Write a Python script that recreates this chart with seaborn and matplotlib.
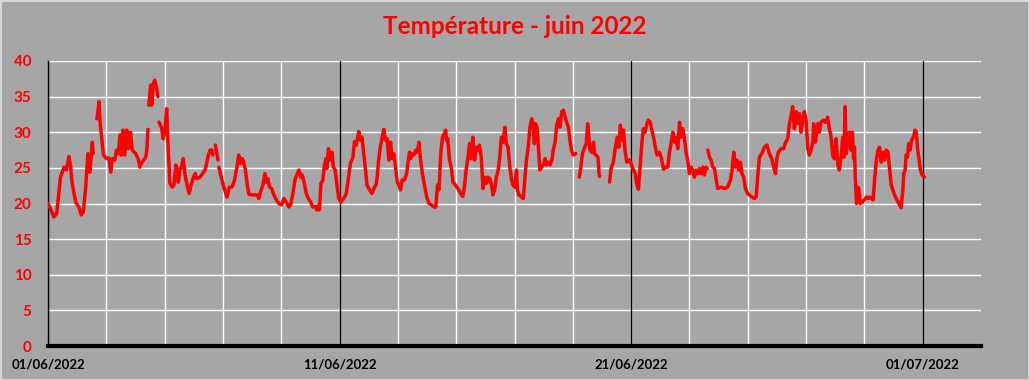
import seaborn as sns
import matplotlib.pyplot as plt
import matplotlib.dates as mdates
import pandas as pd
import numpy as np

# fractional days since 01/06/2022 00:00 and temperature (°C); None = missing data
day_offset = [
    0.00, 0.10, 0.20, 0.30, 0.34, 0.43, 0.55, 0.63, 0.72, 0.78, 0.83, 0.95, 1.06, 1.14, 1.21, 1.29,
    1.37, 1.44, 1.52, 1.55, 1.61,
    1.67, 1.69, 1.75, 1.78, 1.84, 1.90, 2.01, 2.09, 2.15, 2.21, 2.29, 2.35, 2.41, 2.47, 2.51, 2.57,
    2.63, 2.70, 2.76, 2.83, 2.89, 3.01, 3.09, 3.15, 3.23, 3.35, 3.39, 3.43, 3.445,
    3.46, 3.52, 3.56, 3.61, 3.66, 3.72, 3.77, 3.79,
    3.81, 3.89, 3.95, 4.00, 4.07, 4.12, 4.18, 4.26, 4.32, 4.38, 4.44, 4.47, 4.53, 4.58, 4.64, 4.70,
    4.76, 4.84, 4.91, 4.99, 5.05, 5.10, 5.22, 5.30, 5.39, 5.45, 5.50, 5.56, 5.62, 5.65, 5.70,
    5.74, 5.79, 5.83, 5.845,
    5.86, 5.94, 6.06, 6.14, 6.22, 6.31, 6.40, 6.48, 6.54, 6.60, 6.66, 6.71, 6.77, 6.83, 6.89, 7.02,
    7.17, 7.23, 7.29, 7.37, 7.44, 7.48, 7.54, 7.60, 7.67, 7.75, 7.83, 7.92, 8.01, 8.09, 8.17, 8.26,
    8.32, 8.40, 8.47, 8.55, 8.61, 8.67, 8.72, 8.78, 8.86, 8.93, 9.01, 9.08, 9.16, 9.22, 9.28, 9.31,
    9.36, 9.43, 9.47, 9.53, 9.56, 9.62, 9.68, 9.74, 9.79, 9.85, 9.91, 9.97, 10.05, 10.14, 10.23,
    10.31, 10.37, 10.46, 10.51, 10.57, 10.66, 10.72, 10.77, 10.83, 10.89, 10.94, 11.03, 11.11,
    11.20, 11.25, 11.29, 11.34, 11.40, 11.46, 11.52, 11.57, 11.63, 11.69, 11.75, 11.80, 11.86,
    11.92, 11.98, 12.03, 12.09, 12.15, 12.23, 12.30, 12.36, 12.40, 12.44, 12.49, 12.55, 12.61,
    12.67, 12.72, 12.78, 12.84, 12.90, 12.99, 13.07, 13.15, 13.24, 13.30, 13.36, 13.41, 13.47,
    13.53, 13.59, 13.64, 13.67, 13.71, 13.77, 13.83, 13.89, 13.97, 14.06, 14.15, 14.23, 14.29,
    14.34, 14.40, 14.46, 14.51, 14.57, 14.63, 14.69, 14.75, 14.80, 14.86, 14.92, 14.98, 15.03,
    15.09, 15.15, 15.21, 15.26, 15.32, 15.38, 15.44, 15.49, 15.55, 15.61, 15.67, 15.72, 15.78,
    15.84, 15.90, 15.95, 16.01, 16.07, 16.10, 16.15, 16.22, 16.30, 16.36, 16.41, 16.47, 16.53,
    16.59, 16.64, 16.68, 16.72, 16.78, 16.82, 16.87, 16.93, 16.99, 17.05, 17.10, 17.16, 17.22,
    17.28, 17.33, 17.39, 17.45, 17.51, 17.56, 17.62, 17.68, 17.74, 17.79, 17.85, 17.91, 17.97,
    18.02, 18.10, 18.16,
    18.22, 18.27, 18.33, 18.41, 18.46, 18.51, 18.54, 18.59, 18.65, 18.71, 18.74, 18.80, 18.86,
    18.91, 19.10,
    19.26, 19.31, 19.39, 19.46, 19.52, 19.58, 19.63, 19.69, 19.74, 19.79, 19.85, 19.94, 20.00,
    20.06, 20.14, 20.19, 20.25, 20.31, 20.37, 20.42, 20.48, 20.54, 20.59, 20.66, 20.71, 20.77,
    20.83, 20.89, 20.97, 21.03, 21.11, 21.18, 21.26, 21.31, 21.37, 21.43, 21.49, 21.54, 21.60,
    21.66, 21.71, 21.77, 21.83, 21.89, 21.94, 22.00, 22.06, 22.11, 22.17, 22.23, 22.29, 22.34,
    22.40, 22.46, 22.51, 22.57, 22.61, 22.62,
    22.63, 22.69, 22.74, 22.80, 22.86, 22.91, 22.97, 23.09, 23.20, 23.31, 23.41, 23.46, 23.52,
    23.58, 23.63, 23.69, 23.75, 23.80, 23.86, 23.92, 24.00, 24.11, 24.23, 24.29, 24.34, 24.40,
    24.48, 24.57, 24.66, 24.74, 24.82, 24.89, 24.95, 25.00, 25.05, 25.14, 25.23, 25.28, 25.37,
    25.43, 25.49, 25.54, 25.60, 25.66, 25.71, 25.77, 25.83, 25.89, 25.94, 26.00, 26.06, 26.11,
    26.17, 26.23, 26.26, 26.32, 26.40, 26.46, 26.51, 26.59, 26.66, 26.74, 26.80, 26.86, 26.91,
    26.97, 27.03, 27.09, 27.14, 27.20, 27.26, 27.30, 27.34, 27.38, 27.43, 27.49, 27.54, 27.59,
    27.63, 27.66, 27.69, 27.73, 27.77, 27.81, 27.86, 27.93, 28.00, 28.07, 28.12, 28.18, 28.24,
    28.30, 28.35, 28.41, 28.47, 28.52, 28.58, 28.64, 28.69, 28.75, 28.81, 28.86, 28.92, 29.00,
    29.09, 29.18, 29.26, 29.32, 29.35, 29.40, 29.43, 29.48, 29.52, 29.57, 29.62, 29.68, 29.74,
    29.78, 29.83, 29.88, 29.92, 29.98, 30.06,
]

temperature = [
    20.0, 19.1, 18.1, 18.6, 20.2, 23.7, 25.1, 24.7, 26.6, 25.1, 22.8, 20.2, 19.5, 18.4, 18.8, 22.1,
    27.0, 24.4, 28.6, 27.0, None,
    31.9, 32.1, 34.3, 31.7, 29.3, 26.8, 26.3, 26.4, 24.4, 26.3, 26.1, 27.5, 27.0, 29.6, 26.8, 30.3,
    26.8, 30.3, 27.7, 30.0, 27.5, 27.0, 26.3, 25.1, 25.8, 26.5, 27.5, 30.4, None,
    33.8, 36.6, 33.8, 36.8, 37.3, 36.4, 35.0, None,
    31.4, 30.7, 29.1, 29.8, 33.3, 27.9, 22.8, 22.3, 22.6, 25.4, 24.7, 23.0, 24.9, 25.1, 26.3, 24.0,
    22.8, 21.4, 22.6, 23.7, 24.2, 23.5, 23.7, 24.2, 24.7, 25.8, 26.8, 27.5, 27.5, 26.8, None,
    28.2, 27.0, 26.1, None,
    25.1, 23.7, 21.9, 20.9, 22.3, 22.3, 23.3, 25.1, 26.8, 25.6, 26.3, 25.8, 24.7, 22.8, 21.3, 21.2,
    21.2, 20.7, 21.6, 22.6, 24.2, 23.0, 23.5, 22.3, 22.1, 21.2, 20.5, 20.0, 19.8, 20.7, 20.2, 19.5,
    19.8, 21.4, 23.3, 24.2, 24.7, 23.7, 24.0, 23.0, 21.4, 20.7, 20.2, 19.5, 19.6, 19.1, 19.8, 19.1,
    22.8, 23.3, 25.1, 26.3, 24.9, 27.7, 26.1, 27.2, 25.1, 24.7, 22.6, 20.7, 20.2, 20.7, 21.4,
    23.7, 25.6, 26.5, 28.7, 28.2, 30.1, 28.9, 29.3, 27.0, 24.7, 22.6, 21.9, 21.4,
    22.3, 22.6, 23.7, 26.1, 27.9, 29.3, 30.4, 28.9, 29.1, 26.1, 28.6, 26.3, 27.0,
    25.1, 23.0, 22.6, 21.9, 23.3, 23.3, 24.2, 26.1, 27.2, 26.3, 27.0, 26.8, 27.5,
    27.2, 28.6, 26.1, 24.2, 22.8, 20.9, 20.0, 19.8, 19.5, 19.5, 22.6, 21.9, 27.0,
    29.3, 29.8, 30.3, 28.9, 29.1, 26.1, 25.1, 23.0, 22.6, 22.1, 21.4, 21.0, 22.6,
    24.7, 26.3, 28.4, 26.3, 29.3, 26.1, 27.9, 27.5, 28.2, 26.5, 22.1, 23.7, 22.8,
    23.7, 23.5, 22.6, 21.2, 21.9, 23.7, 24.7, 26.3, 29.3, 28.6, 30.7, 28.4, 27.9,
    25.1, 23.3, 22.6, 22.3, 24.7, 21.9, 21.2, 21.0, 20.7, 23.7, 26.1, 27.9, 30.7,
    31.9, 31.2, 28.4, 31.2, 30.5, 27.9, 24.7, 25.1, 25.4, 26.3, 25.4, 25.8, 25.4,
    26.1, 27.5, 28.6, 31.0, 31.9, 30.7, 32.9, 33.1, 32.1, 31.4, 30.7, 28.6, 27.2,
    26.8, 27.0, None,
    23.7, 24.9, 27.0, 27.9, 28.4, 31.2, 29.8, 27.5, 27.2, 28.6, 27.0, 26.8, 26.5,
    23.8, None,
    23.0, 24.9, 25.8, 27.9, 29.3, 27.9, 31.0, 28.9, 30.3, 27.5, 25.8, 26.1, 25.6,
    24.9, 24.2, 22.8, 22.0, 25.1, 28.6, 30.5, 30.0, 31.2, 31.7, 31.4, 30.3, 29.3,
    27.9, 26.8, 27.2, 26.5, 24.8, 25.1, 25.1, 27.0, 28.4, 30.0, 28.6, 29.3, 27.7,
    31.4, 29.3, 30.5, 29.1, 27.0, 26.1, 24.2, 25.1, 24.7, 23.7, 24.7, 24.2, 24.9,
    24.2, 25.1, 24.0, 25.1, 24.9, None,
    27.5, 26.5, 26.1, 25.1, 24.9, 23.5, 22.1, 22.3, 22.1, 22.3, 23.3, 24.7, 27.2,
    25.1, 26.1, 24.7, 25.8, 24.2, 23.7, 22.1, 21.4, 21.0, 20.7, 21.0, 23.7, 26.5,
    27.0, 27.9, 28.2, 27.0, 26.3, 25.1, 24.2, 26.3, 27.2, 27.7, 27.7, 28.4, 29.1,
    31.2, 32.4, 33.6, 30.5, 32.9, 31.2, 32.6, 30.0, 31.9, 32.9, 31.7, 27.7, 26.8,
    27.5, 28.6, 31.2, 28.6, 31.2, 30.0, 31.4, 31.7, 31.4, 32.1, 30.5, 29.3, 26.8,
    26.3, 29.1, 25.4, 24.7, 26.5, 29.3, 26.5, 33.6, 27.0, 29.3, 30.0, 27.5, 30.0,
    26.3, 27.9, 23.3, 20.0, 22.3, 22.1, 20.0, 20.2, 20.5, 20.9, 20.7, 20.9, 20.7,
    20.5, 23.3, 26.1, 27.5, 27.9, 25.8, 27.2, 26.1, 27.5, 27.2, 25.1, 22.6, 21.6,
    20.7, 20.0, 19.4, 21.9, 24.2, 24.7, 26.8, 26.5, 28.4, 27.5, 28.9, 29.3, 30.3,
    30.0, 27.5, 26.1, 24.7, 24.0, 23.7,
]

date_ticks = ["2022-06-01", "2022-06-11", "2022-06-21", "2022-07-01"]

start = pd.Timestamp("2022-06-01")
df = pd.DataFrame({"day": day_offset, "temp": temperature})
df["temp"] = df["temp"].astype(float)
df["segment"] = df["temp"].isna().cumsum()
df["date"] = start + pd.to_timedelta(df["day"], unit="D")
df = df.dropna()

bg = "#a6a6a6"
sns.set_theme(style="white", rc={"axes.facecolor": bg, "figure.facecolor": bg})
plt.rcParams["font.family"] = ["Lato", "DejaVu Sans"]

fig = plt.figure(figsize=(10.29, 3.80), dpi=100)
ax = fig.add_axes([48 / 1029, 34 / 380, 933 / 1029, 285 / 380])

# grid: white every 2 days and every 5 °C, black at the labelled dates
minor_days = pd.date_range("2022-06-01", "2022-07-02", freq="2D")
for d in minor_days:
    ax.axvline(d, color="white", lw=1.0, zorder=1)
for v in range(5, 45, 5):
    ax.axhline(v, color="white", lw=1.0, zorder=1)
for d in date_ticks:
    ax.axvline(pd.Timestamp(d), color="black", lw=1.0, zorder=1.5)

sns.lineplot(data=df, x="date", y="temp", units="segment", estimator=None,
             color="#ff0000", lw=2.5, ax=ax, zorder=3)

ax.set_xlim(start, pd.Timestamp("2022-07-03"))
ax.set_ylim(0, 40)
ax.set_yticks(range(0, 45, 5))
ax.set_xticks([pd.Timestamp(d) for d in date_ticks])
ax.xaxis.set_major_formatter(mdates.DateFormatter("%d/%m/%Y"))
ax.set_xlabel("")
ax.set_ylabel("")

ax.tick_params(axis="y", length=0, pad=12, labelsize=11, labelcolor="#ff0000")
ax.tick_params(axis="x", length=0, pad=9, labelsize=9.5, labelcolor="black")
for lbl in ax.get_yticklabels() + ax.get_xticklabels():
    lbl.set_fontweight("bold")

for s in ["top", "right"]:
    ax.spines[s].set_visible(False)
ax.spines["left"].set_color("black")
ax.spines["left"].set_linewidth(1.0)
ax.spines["bottom"].set_color("black")
ax.spines["bottom"].set_linewidth(3)
ax.spines["bottom"].set_zorder(4)

fig.suptitle("Température - juin 2022", color="#ff0000", fontsize=17.5,
             fontweight="bold", y=1 - 27 / 380, va="center")

fig.add_artist(plt.Rectangle((0, 0), 1, 1, transform=fig.transFigure, fill=False,
                             edgecolor="#d9d9d9", lw=2))

plt.savefig("out.png", dpi=100, facecolor=bg)
plt.close()
